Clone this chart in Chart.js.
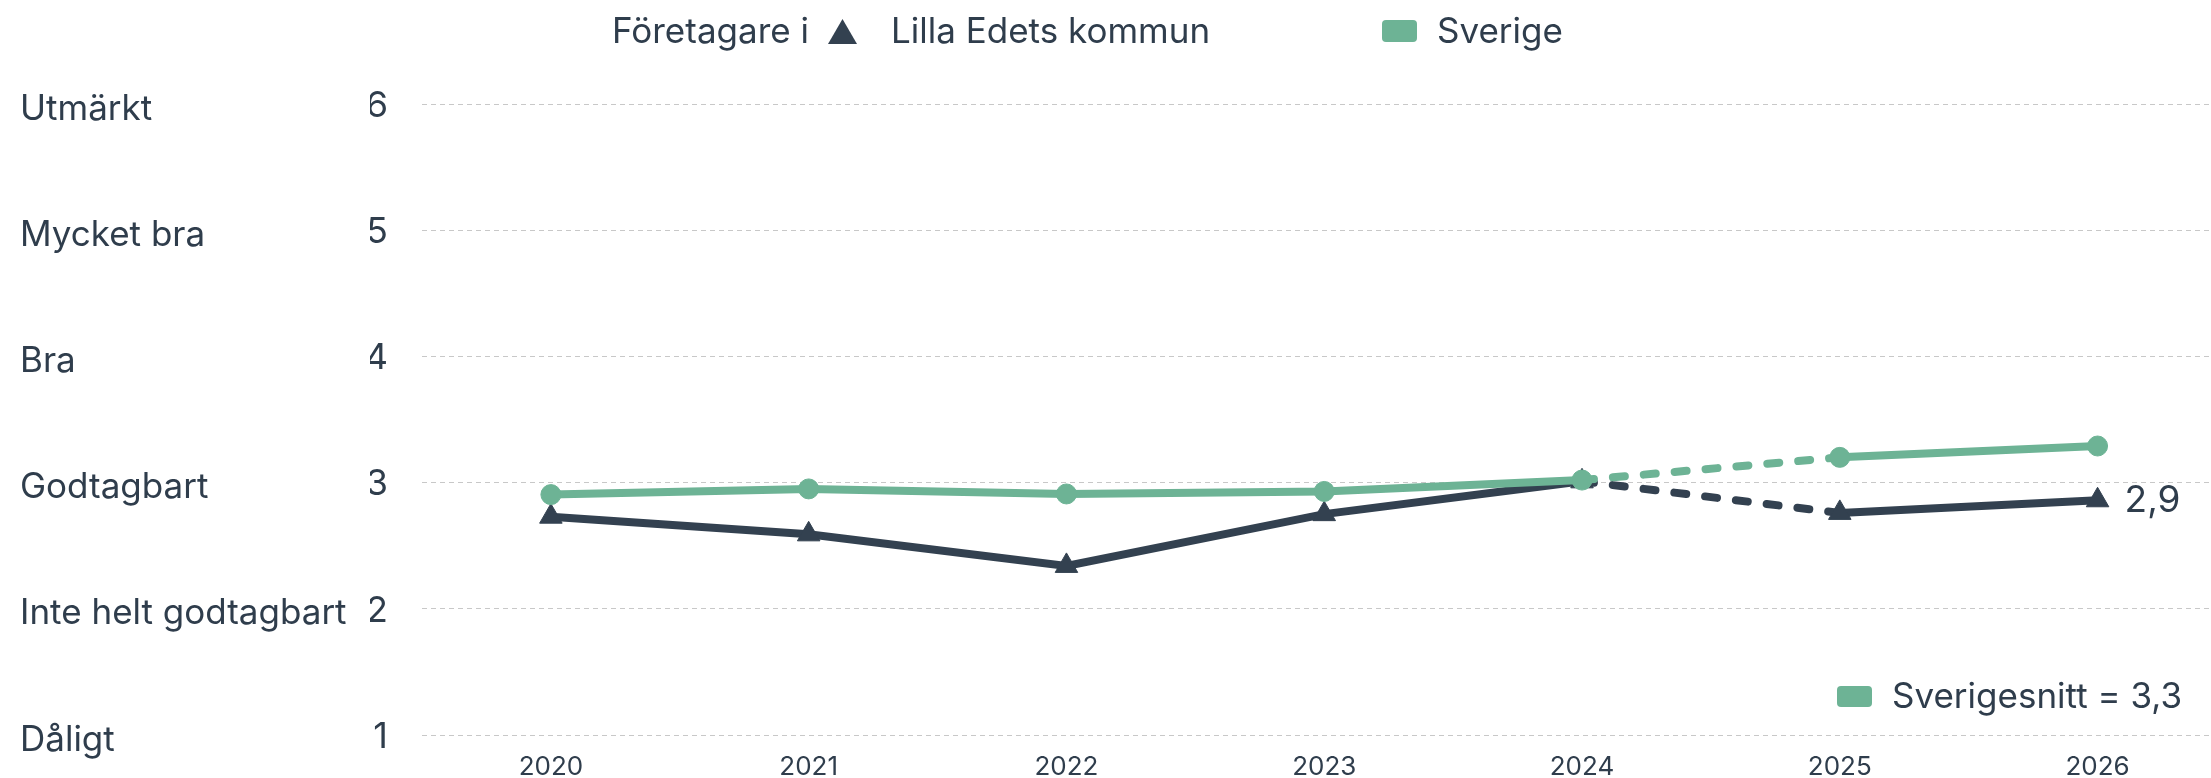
<!DOCTYPE html>
<html>
<head>
<meta charset="utf-8">
<script src="https://cdn.jsdelivr.net/npm/chart.js@4/dist/chart.umd.min.js"></script>
<style>
  html, body { margin: 0; padding: 0; background: #ffffff; }
  #wrap { width: 2211px; height: 778px; position: relative; }
</style>
</head>
<body>
<div id="wrap"><canvas id="c" width="2211" height="778"></canvas></div>
<script>
// ---- data ----
const years = [2020, 2021, 2022, 2023, 2024, 2025, 2026];
const lillaEdet = [2.73, 2.59, 2.34, 2.75, 3.01, 2.76, 2.86];
const sverige = [2.905, 2.95, 2.91, 2.93, 3.02, 3.20, 3.29];
const yTicks = [1, 2, 3, 4, 5, 6];
const yTickNames = ['Dåligt', 'Inte helt godtagbart', 'Godtagbart', 'Bra', 'Mycket bra', 'Utmärkt'];
const seriesNames = ['Lilla Edets kommun', 'Sverige'];
const legendPrefix = 'Företagare i';
const averageLabel = 'Sverigesnitt';
const dashedFromIndex = 4; // segment 2024 -> 2025 is dashed

// ---- style ----
const DARK = '#334150';
const GREEN = '#6db395';
const TEXT = '#2f3d4c';
const FONT = 'Inter, "DejaVu Sans", sans-serif';

const fmt = v => v.toFixed(1).replace('.', ',');

const toPoints = arr => arr.map((v, i) => ({ x: years[i], y: v }));
const dashSeg = ctx => ctx.p0DataIndex === dashedFromIndex ? [12, 19] : undefined;

const overlayPlugin = {
  id: 'overlay',
  afterDraw(chart) {
    const ctx = chart.ctx;
    ctx.save();
    ctx.fillStyle = TEXT;
    ctx.textBaseline = 'alphabetic';
    ctx.textAlign = 'left';
    // top legend
    ctx.font = '35px ' + FONT;
    ctx.fillText(legendPrefix, 612, 43);
    ctx.fillStyle = DARK;
    ctx.beginPath();
    ctx.moveTo(828, 44); ctx.lineTo(857, 44); ctx.lineTo(842.5, 19); ctx.closePath();
    ctx.fill();
    ctx.fillStyle = TEXT;
    ctx.fillText(chart.data.datasets[0].label, 891, 43);
    ctx.fillStyle = GREEN;
    ctx.beginPath();
    ctx.roundRect(1382, 20, 35, 22, 4);
    ctx.fill();
    ctx.fillStyle = TEXT;
    ctx.fillText(chart.data.datasets[1].label, 1437, 43);

    // bottom-right average legend
    const sv = chart.data.datasets[1].data;
    ctx.fillStyle = GREEN;
    ctx.beginPath();
    ctx.roundRect(1837, 686, 35, 21, 4);
    ctx.fill();
    ctx.fillStyle = TEXT;
    ctx.font = '35px ' + FONT;
    ctx.fillText(averageLabel + ' = ' + fmt(sv[sv.length - 1].y), 1892, 708);

    // end label for Lilla Edet
    const meta = chart.getDatasetMeta(0);
    const last = meta.data[meta.data.length - 1];
    const le = chart.data.datasets[0].data;
    ctx.font = '37px ' + FONT;
    ctx.fillText(fmt(le[le.length - 1].y), last.x + 27, last.y + 12);
    ctx.restore();
  }
};

const noVPad = (s, w) => { s.width = w; s.paddingTop = 0; s.paddingBottom = 0; };

new Chart(document.getElementById('c'), {
  type: 'line',
  data: {
    datasets: [
      {
        label: seriesNames[0],
        data: toPoints(lillaEdet),
        borderColor: DARK,
        backgroundColor: DARK,
        borderWidth: 8,
        borderCapStyle: 'round',
        pointStyle: 'triangle',
        pointRadius: 13,
        pointBorderWidth: 1,
        pointHoverRadius: 13,
        tension: 0,
        order: 1,
        segment: { borderDash: dashSeg }
      },
      {
        label: seriesNames[1],
        data: toPoints(sverige),
        borderColor: GREEN,
        backgroundColor: GREEN,
        borderWidth: 8,
        borderCapStyle: 'round',
        pointStyle: 'circle',
        pointRadius: 10,
        pointBorderWidth: 1,
        pointHoverRadius: 10,
        tension: 0,
        order: 0,
        segment: { borderDash: dashSeg }
      }
    ]
  },
  options: {
    responsive: false,
    animation: false,
    layout: { autoPadding: false, padding: { left: 20, top: 104, right: 0, bottom: 0 } },
    plugins: {
      legend: { display: false },
      tooltip: { enabled: false }
    },
    scales: {
      x: {
        type: 'linear',
        min: years[0] - 0.5,
        max: 2026.44,
        afterBuildTicks: s => { s.ticks = years.map(v => ({ value: v })); },
        afterFit: s => { s.height = 43; },
        grid: { display: false },
        border: { display: false },
        ticks: {
          padding: 9,
          color: TEXT,
          font: { family: FONT, size: 26 },
          callback: v => String(v),
          maxRotation: 0,
          autoSkip: false
        }
      },
      y: {
        position: 'left',
        min: 1,
        max: 6,
        weight: 0,
        afterBuildTicks: s => { s.ticks = yTicks.map(v => ({ value: v })); },
        afterFit: s => noVPad(s, 52),
        grid: {
          color: '#c8c8c8',
          lineWidth: 1,
          drawTicks: false
        },
        border: { display: false, dash: [5, 4] },
        ticks: {
          padding: 34,
          labelOffset: 2,
          color: TEXT,
          font: { family: FONT, size: 36 },
          callback: v => String(v)
        }
      },
      yNames: {
        position: 'left',
        min: 1,
        max: 6,
        weight: 1,
        afterBuildTicks: s => { s.ticks = yTicks.map(v => ({ value: v })); },
        afterFit: s => noVPad(s, 350),
        grid: { display: false, drawTicks: false },
        border: { display: false },
        ticks: {
          crossAlign: 'far',
          padding: 0,
          labelOffset: 5,
          color: TEXT,
          font: { family: FONT, size: 35 },
          callback: v => yTickNames[yTicks.indexOf(v)]
        }
      }
    }
  },
  plugins: [overlayPlugin]
});
</script>
</body>
</html>
